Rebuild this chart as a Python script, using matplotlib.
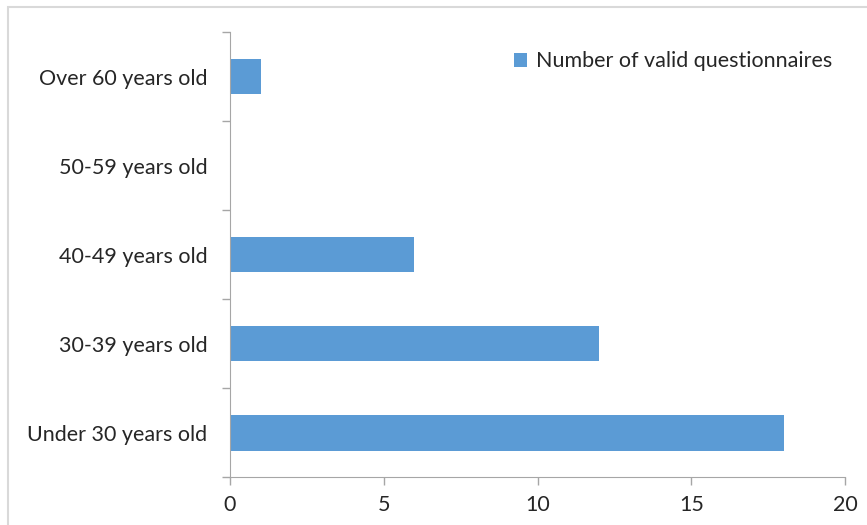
import matplotlib.pyplot as plt
from matplotlib.patches import Rectangle

categories = ['Under 30 years old', '30-39 years old', '40-49 years old',
              '50-59 years old', 'Over 60 years old']
counts = [18, 12, 6, 0, 1]
xticks = [0, 5, 10, 15, 20]

plt.rcParams['font.family'] = ['Lato', 'DejaVu Sans']
fs = 15.5

fig = plt.figure(figsize=(8.67, 5.25), dpi=100)
ax = fig.add_axes([0.265, 0.091, 0.71, 0.848])

bar_color = '#5B9BD5'
ax.barh(range(len(categories)), counts, height=0.4, color=bar_color,
        label='Number of valid questionnaires')

ax.set_xlim(0, 20)
ax.set_ylim(-0.5, len(categories) - 0.5)
ax.set_xticks(xticks)
ax.set_xticklabels([str(t) for t in xticks], fontsize=fs, color='#262626')
# category labels centred in bands, ticks on band edges
ax.set_yticks(range(len(categories)))
ax.set_yticklabels(categories, fontsize=fs, color='#262626')
ax.tick_params(axis='y', length=0, pad=16)
ax.set_yticks([i - 0.5 for i in range(len(categories) + 1)], minor=True)
ax.tick_params(axis='y', which='minor', length=6, color='#A6A6A6', width=1)
ax.tick_params(axis='x', length=6, color='#A6A6A6', width=1, pad=7)

for side in ['top', 'right']:
    ax.spines[side].set_visible(False)
ax.spines['left'].set_color('#A6A6A6')
ax.spines['bottom'].set_color('#A6A6A6')

ax.legend(loc='upper right', bbox_to_anchor=(1.01, 1.0), frameon=False,
          fontsize=fs, handlelength=0.6, handleheight=0.6, handletextpad=0.4,
          labelcolor='#262626')

# outer chart border (right and bottom edges fall outside the picture)
fig.patches.append(Rectangle((8 / 867, -0.1), 1, 1.1 - 7 / 525, transform=fig.transFigure,
                             fill=False, edgecolor='#D9D9D9', linewidth=1.5))

fig.savefig('out.png', dpi=100)
